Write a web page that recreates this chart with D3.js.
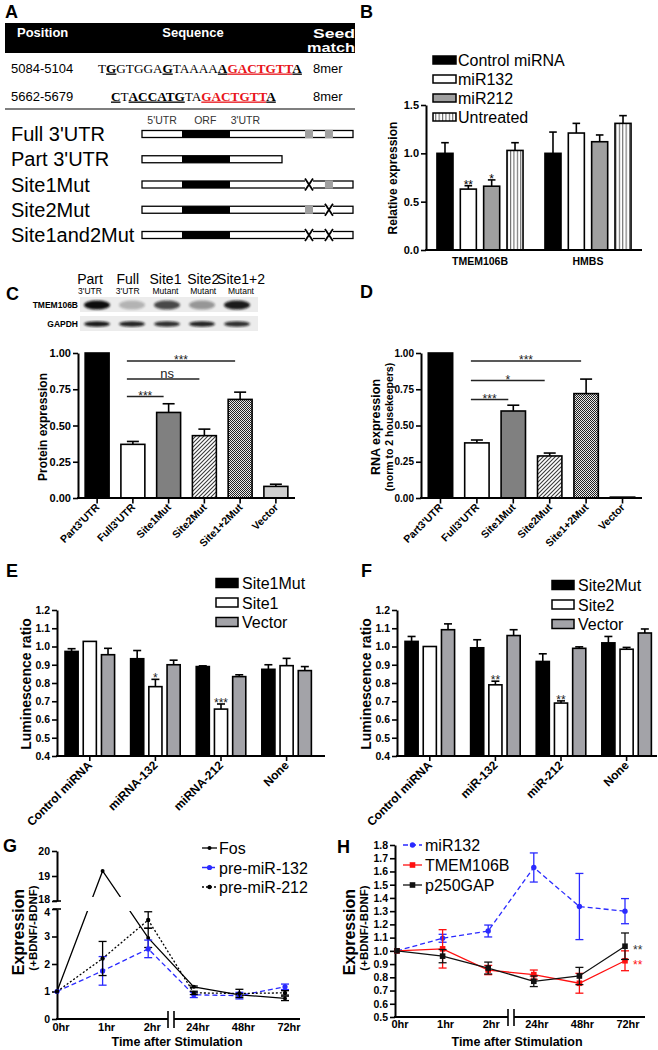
<!DOCTYPE html>
<html><head><meta charset="utf-8">
<script src="https://cdn.jsdelivr.net/npm/d3@7"></script>
<style>body{margin:0;background:#fff}svg{display:block}</style>
</head><body><svg id="fig" width="658" height="1050"></svg>
<script>
// ================= DATA =================
// Panel A
const headerCols = ["Position","Sequence","Seed","match"];
const sitePositions = ["5084-5104","5662-5679"];
const seedTypes = ["8mer","8mer"];
const seqSite1 = [["T","n"],["G","m"],["GTGGA","n"],["G","m"],["TAAAA","n"],["A","m"],["GACTGTT","s"],["A","m"]];
const seqSite2 = [["C","m"],["T","n"],["ACCATG","m"],["TA","n"],["GACTGTT","s"],["A","m"]];
const regionLabels = ["5'UTR","ORF","3'UTR"];
const constructNames = ["Full 3'UTR","Part 3'UTR","Site1Mut","Site2Mut","Site1and2Mut"];
const constructLength = ["full","part","full","full","full"];
const site1State = ["wt","none","mut","wt","mut"];
const site2State = ["wt","none","wt","mut","mut"];

// Panel B
const bGenes = ["TMEM106B","HMBS"];
const bSeries = ["Control miRNA","miR132","miR212","Untreated"];
const bControl = [1.00,1.00],  bControlErr = [0.11,0.22];
const bMiR132 = [0.63,1.21],   bMiR132Err = [0.035,0.10];
const bMiR212 = [0.66,1.12],   bMiR212Err = [0.065,0.07];
const bUntreated = [1.03,1.31],bUntreatedErr = [0.08,0.08];
const bMiR132Sig = ["**",""], bMiR212Sig = ["*",""];
const bTicks = [0,0.5,1.0,1.5];

// Panel C (western blot + quantification)
const blotLanes = ["Part","Full","Site1","Site2","Site1+2"];
const blotLaneSub = ["3'UTR","3'UTR","Mutant","Mutant","Mutant"];
const blotRows = ["TMEM106B","GAPDH"];
const blotGapdh = [0.95,0.9,0.85,0.9,0.85];
const cdCategories = ["Part3'UTR","Full3'UTR","Site1Mut","Site2Mut","Site1+2Mut","Vector"];
const cValues = [1.00,0.37,0.59,0.43,0.68,0.08];
const cErrors = [0,0.02,0.06,0.045,0.05,0.015];
const cSigFrom = [1,1,1], cSigTo = [4,3,2], cSigLevel = [0.945,0.82,0.70], cSigLabel = ["***","ns","***"];
// Panel D
const dValues = [1.00,0.38,0.60,0.29,0.72,0.006];
const dErrors = [0,0.02,0.04,0.02,0.10,0];
const dSigFrom = [1,1,1], dSigTo = [4,3,2], dSigLevel = [0.945,0.81,0.68], dSigLabel = ["***","*","***"];
const cdTicks = [0,0.25,0.5,0.75,1.0];

// Panel E
const eCats = ["Control miRNA","miRNA-132","miRNA-212","None"];
const eSeries = ["Site1Mut","Site1","Vector"];
const eSite1Mut = [0.973,0.933,0.89,0.875], eSite1MutErr = [0.015,0.045,0.004,0.025];
const eSite1 = [1.028,0.78,0.657,0.895],    eSite1Err = [0,0.04,0.028,0.04];
const eVector = [0.955,0.90,0.835,0.868],   eVectorErr = [0.035,0.025,0.01,0.022];
const eSite1Sig = ["","*","***",""];
// Panel F
const fCats = ["Control miRNA","miR-132","miR-212","None"];
const fSeries = ["Site2Mut","Site2","Vector"];
const fSite2Mut = [1.028,0.993,0.918,1.02], fSite2MutErr = [0.027,0.044,0.042,0.035];
const fSite2 = [1.0,0.79,0.69,0.985],       fSite2Err = [0,0.02,0.012,0.01];
const fVector = [1.092,1.06,0.99,1.074],    fVectorErr = [0.032,0.032,0.008,0.022];
const fSite2Sig = ["","**","**",""];
const efTicks = [0.4,0.5,0.6,0.7,0.8,0.9,1.0,1.1,1.2];

// Panel G
const times = ["0hr","1hr","2hr","24hr","48hr","72hr"];
const gSeries = ["Fos","pre-miR-132","pre-miR-212"];
const gFos = [1.0,19.2,2.95,1.17,0.88,0.75],     gFosErr = [0,0,0.35,0.03,0.04,0.08];
const gPre132 = [1.0,1.75,2.55,0.88,0.85,1.17],  gPre132Err = [0,0.52,0.32,0.1,0.12,0.1];
const gPre212 = [1.0,2.2,3.6,0.95,0.93,0.95],    gPre212Err = [0,0.62,0.3,0.06,0.15,0.08];
const gTicksLow = [0,1,2,3,4], gTicksHigh = [18,19,20];
// Panel H
const hSeries = ["miR132","TMEM106B","p250GAP"];
const hMiR132 = [1.00,1.095,1.15,1.63,1.335,1.30],   hMiR132Err = [0,0.03,0.045,0.11,0.25,0.095];
const hTMEM = [1.00,1.015,0.855,0.82,0.755,0.925],   hTMEMErr = [0,0.145,0.035,0.035,0.075,0.075];
const hP250 = [1.00,0.96,0.87,0.77,0.81,1.035],      hP250Err = [0,0.05,0.045,0.04,0.065,0.1];
const hSig = ["","","","","","**"];
const hTicks = [0.5,0.6,0.7,0.8,0.9,1.0,1.1,1.2,1.3,1.4,1.5,1.6,1.7,1.8];

// ================= DRAWING =================
const FONT = "'Liberation Sans', Arial, Helvetica, sans-serif";
const SERIF = "'Liberation Serif', 'Times New Roman', serif";
const svg = d3.select("#fig").attr("font-family", FONT);
svg.append("rect").attr("width",658).attr("height",1050).attr("fill","#fff");
const defs = svg.append("defs");

function pattern(id,w,h,draw){
  const p = defs.append("pattern").attr("id",id).attr("patternUnits","userSpaceOnUse").attr("width",w).attr("height",h);
  draw(p);
}
pattern("vstripe",3.4,4,p=>{
  p.append("rect").attr("width",3.4).attr("height",4).attr("fill","#fff");
  p.append("rect").attr("x",0).attr("width",1.1).attr("height",4).attr("fill","#6a6a6a");
});
pattern("diag",4,4,p=>{
  p.append("rect").attr("width",4).attr("height",4).attr("fill","#fff");
  p.append("path").attr("d","M-1,1 l2,-2 M0,4 l4,-4 M3,5 l2,-2").attr("stroke","#3a3a3a").attr("stroke-width",1.1);
});
pattern("dots",2,2,p=>{
  p.append("rect").attr("width",2).attr("height",2).attr("fill","#e8e8e8");
  p.append("rect").attr("width",1).attr("height",1).attr("fill","#222");
  p.append("rect").attr("x",1).attr("y",1).attr("width",1).attr("height",1).attr("fill","#222");
});
defs.append("filter").attr("id","blur").append("feGaussianBlur").attr("stdDeviation",1.3);

function txt(g,x,y,t,o={}){
  const e = g.append("text").attr("x",x).attr("y",y).text(t)
    .attr("font-size",o.fs||12).attr("font-weight",o.fw||"normal")
    .attr("fill",o.fill||"#000").attr("text-anchor",o.anchor||"start");
  if(o.rot!=null) e.attr("transform",`rotate(${o.rot},${x},${y})`);
  if(o.family) e.attr("font-family",o.family);
  return e;
}
function styleAxis(a,fs){
  a.attr("font-family",FONT);
  a.select(".domain").attr("stroke","#000").attr("stroke-width",2);
  a.selectAll(".tick line").attr("stroke","#000").attr("stroke-width",1.6);
  a.selectAll(".tick text").attr("font-size",fs||11).attr("font-weight","bold").attr("fill","#000");
}
function yAxis(g,y,x,ticks,fmt,fs){
  const a = g.append("g").attr("transform",`translate(${x},0)`)
    .call(d3.axisLeft(y).tickValues(ticks).tickFormat(d3.format(fmt)).tickSize(5).tickSizeOuter(0).tickPadding(2));
  styleAxis(a,fs);
  return a;
}
function hline(g,x1,x2,y,w,c){ g.append("line").attr("x1",x1).attr("x2",x2).attr("y1",y).attr("y2",y).attr("stroke",c||"#000").attr("stroke-width",w||2); }
function errUp(g,cx,y0,y1,cap,c){
  g.append("line").attr("x1",cx).attr("x2",cx).attr("y1",y0).attr("y2",y1).attr("stroke",c||"#000").attr("stroke-width",1.6);
  g.append("line").attr("x1",cx-cap).attr("x2",cx+cap).attr("y1",y1).attr("y2",y1).attr("stroke",c||"#000").attr("stroke-width",1.6);
}
function bar(g,x,w,y0,y1,fill){
  g.append("rect").attr("x",x).attr("y",y1).attr("width",w).attr("height",Math.max(0.5,y0-y1))
    .attr("fill",fill).attr("stroke","#000").attr("stroke-width",1.6);
}

// ---- panel letters
const letters = [["A",5,18],["B",360,18],["C",6,300],["D",360,298],["E",6,577],["F",361,577],["G",3,852],["H",337,853]];
letters.forEach(([t,x,y])=>txt(svg,x,y,t,{fs:18,fw:"bold"}));

// ================= PANEL A =================
const gA = svg.append("g");
defs.append("clipPath").attr("id","clipA").append("rect").attr("x",0).attr("y",0).attr("width",355).attr("height",120);
const gAh = gA.append("g").attr("clip-path","url(#clipA)");
gAh.append("rect").attr("x",5).attr("y",23).attr("width",350).attr("height",30).attr("fill","#000");
txt(gAh,17,37,headerCols[0],{fs:13,fw:"bold",fill:"#fff"});
txt(gAh,193,37,headerCols[1],{fs:13,fw:"bold",fill:"#fff",anchor:"middle"});
txt(gAh,313,38,headerCols[2],{fs:13,fw:"bold",fill:"#fff"}).attr("textLength",42).attr("lengthAdjust","spacingAndGlyphs");
txt(gAh,307,52,headerCols[3],{fs:13,fw:"bold",fill:"#fff"}).attr("textLength",48).attr("lengthAdjust","spacingAndGlyphs");
const rowYA = d3.scalePoint().domain(sitePositions).range([68,96]);
const seqStart = [98,111];
[seqSite1,seqSite2].forEach((segs,i)=>{
  const y = rowYA(sitePositions[i]) + 4.5;
  txt(gAh,11,y,sitePositions[i],{fs:13});
  txt(gAh,313,y,seedTypes[i],{fs:13});
  const t = gAh.append("text").attr("x",seqStart[i]).attr("y",y).attr("font-family",SERIF).attr("font-size",13.2);
  segs.forEach(([s,k])=>{
    const ts = t.append("tspan").text(s);
    if(k!=="n"){ ts.attr("font-weight","bold").attr("text-decoration","underline"); }
    if(k==="s"){ ts.attr("fill","#e8141a"); }
  });
});
hline(gAh,5,355,109,1.5,"#555");

// schematic constructs
const geneX = d3.scaleLinear().domain([0,1]).range([142,353]);
const rowY = d3.scalePoint().domain(constructNames).range([134,235]);
[0.095,0.30,0.49].forEach((f,i)=>txt(gA,geneX(f),124,regionLabels[i],{fs:10.5,fill:"#333",anchor:"middle"}));
const bh = 7;
constructNames.forEach((n,i)=>{
  const cy = rowY(n);
  txt(gA,11,cy+7,n,{fs:20});
  const end = constructLength[i]==="full" ? 1 : 0.6635;
  gA.append("rect").attr("x",geneX(0)).attr("y",cy-bh/2).attr("width",geneX(end)-geneX(0)).attr("height",bh)
    .attr("fill","#fff").attr("stroke","#000").attr("stroke-width",1.3);
  gA.append("rect").attr("x",geneX(0.1896)).attr("y",cy-bh/2).attr("width",geneX(0.417)-geneX(0.1896)).attr("height",bh).attr("fill","#000");
  [[site1State[i],0.7725,0.8104],[site2State[i],0.867,0.905]].forEach(([st,a,b])=>{
    if(st==="wt"){
      gA.append("rect").attr("x",geneX(a)).attr("y",cy-bh/2-0.6).attr("width",geneX(b)-geneX(a)).attr("height",bh+1.2).attr("fill","#a0a0a0");
    } else if(st==="mut"){
      const x0=geneX(a), x1=geneX(b);
      gA.append("rect").attr("x",x0).attr("y",cy-bh/2-1).attr("width",x1-x0).attr("height",bh+2).attr("fill","#fff");
      gA.append("path").attr("d",`M${x0},${cy-6}L${x1},${cy+6}M${x1},${cy-6}L${x0},${cy+6}`).attr("stroke","#000").attr("stroke-width",1.8);
    }
  });
});

// ================= PANEL B =================
const gB = svg.append("g");
const yB = d3.scaleLinear().domain([0,1.5]).range([250,105]);
const xB0 = d3.scaleBand().domain(bGenes).range([426,642]);
const xB1 = d3.scaleBand().domain(bSeries).range([0,xB0.bandwidth()]).paddingInner(0.313).paddingOuter(0.47);
const bFill = ["#000","#fff","#a0a0a0","url(#vstripe)"];
const bVals = [bControl,bMiR132,bMiR212,bUntreated];
const bErrs = [bControlErr,bMiR132Err,bMiR212Err,bUntreatedErr];
const bSigs = [null,bMiR132Sig,bMiR212Sig,null];
bGenes.forEach((gname,gi)=>{
  bSeries.forEach((s,si)=>{
    const x = xB0(gname)+xB1(s), w = xB1.bandwidth(), v = bVals[si][gi], e = bErrs[si][gi];
    if(e>0) errUp(gB,x+w/2,yB(v),yB(v+e),3.8);
    bar(gB,x,w,yB(0),yB(v),bFill[si]);
    if(bSigs[si] && bSigs[si][gi]) txt(gB,x+w/2,yB(v+e)+3,bSigs[si][gi],{fs:12,anchor:"middle"});
  });
  txt(gB,xB0(gname)+xB0.bandwidth()/2,265,gname,{fs:10.5,fw:"bold",anchor:"middle"});
});
yAxis(gB,yB,426,bTicks,".1f");
hline(gB,425,642,250,2);
txt(gB,397,178,"Relative expression",{fs:12,fw:"bold",anchor:"middle",rot:-90});
const legB = d3.scalePoint().domain(bSeries).range([60,117]);
bSeries.forEach((s,i)=>{
  gB.append("rect").attr("x",433).attr("y",legB(s)-4).attr("width",23).attr("height",8).attr("fill",bFill[i]).attr("stroke","#000").attr("stroke-width",1.5);
  txt(gB,458,legB(s)+6,s,{fs:16});
});

// ================= PANEL C =================
const gC = svg.append("g");
// blot
const laneX = d3.scalePoint().domain(blotLanes).range([97,237]);
const laneLabelX = d3.scalePoint().domain(blotLanes).range([90,241]);
blotLanes.forEach((l,i)=>{
  txt(gC,laneLabelX(l),284,l,{fs:14,anchor:"middle"});
  txt(gC,laneLabelX(l),293.5,blotLaneSub[i],{fs:8.5,anchor:"middle"});
});
const blotRowY = d3.scalePoint().domain(blotRows).range([305,324]);
blotRows.forEach((r,ri)=>{
  const cy = blotRowY(r);
  gC.append("rect").attr("x",80).attr("y",cy-8).attr("width",178).attr("height",15).attr("fill","#ececec");
  txt(gC,78,cy+3,r,{fs:8.5,fw:"bold",anchor:"end"});
  blotLanes.forEach((l,i)=>{
    const inten = ri===0 ? Math.min(1,Math.max(0.25,0.25+(cValues[i]-0.37)*2.2)) : blotGapdh[i];
    gC.append("ellipse").attr("cx",laneX(l)).attr("cy",cy).attr("rx",13).attr("ry",ri===0?4.5:2.8)
      .attr("fill","#111").attr("opacity",inten).attr("filter","url(#blur)");
  });
});
function cdChart(g,vals,errs,x0,x1,sigF,sigT,sigL,sigLab,tfs){
  const y = d3.scaleLinear().domain([0,1]).range([498,353]);
  const x = d3.scaleBand().domain(cdCategories).range([x0,x1]).paddingInner(0.33).paddingOuter(0.2);
  const fills = ["#000","#fff","#808080","url(#diag)","url(#dots)","#cfcfcf"];
  cdCategories.forEach((c,i)=>{
    const bx = x(c), w = x.bandwidth();
    if(errs[i]>0) errUp(g,bx+w/2,y(vals[i]),y(vals[i]+errs[i]),6);
    bar(g,bx,w,y(0),y(vals[i]),fills[i]);
    g.append("line").attr("x1",bx+w/2).attr("x2",bx+w/2).attr("y1",498).attr("y2",503.5).attr("stroke","#000").attr("stroke-width",1.6);
    txt(g,bx+w/2+3,508,c,{fs:10.5,fw:"bold",anchor:"end",rot:-45});
  });
  yAxis(g,y,x0,cdTicks,".2f",tfs);
  hline(g,x0-1,x1,498,2);
  sigF.forEach((f,k)=>{
    const xa = x(cdCategories[f])+x.bandwidth()/2-6, xb = x(cdCategories[sigT[k]])+x.bandwidth()/2-5;
    const ly = y(sigL[k]);
    hline(g,xa,xb,ly,1.5,"#222");
    const isNs = sigLab[k]==="ns";
    txt(g,(xa+xb)/2+(isNs?4:0),isNs?ly-1:ly+3.5,sigLab[k],{fs:isNs?13:12,anchor:"middle",fill:"#222"});
  });
  return {x,y};
}
cdChart(gC,cValues,cErrors,78,295,cSigFrom,cSigTo,cSigLevel,cSigLabel,11);
txt(gC,47,427,"Protein expression",{fs:12,fw:"bold",anchor:"middle",rot:-90});

// ================= PANEL D =================
const gD = svg.append("g");
cdChart(gD,dValues,dErrors,421,642,dSigFrom,dSigTo,dSigLevel,dSigLabel,10);
txt(gD,380,427,"RNA expression",{fs:12.5,fw:"bold",anchor:"middle",rot:-90});
txt(gD,392.5,427,"(norm to 2 housekeepers)",{fs:10.5,fw:"bold",anchor:"middle",rot:-90});

// ================= PANELS E / F =================
function efChart(g,cats,series,vals,errs,sig,xa,xEnd,legX,legY0){
  const y = d3.scaleLinear().domain([0.4,1.2]).range([756,610]);
  const x0 = d3.scaleBand().domain(cats).range([xa,xa+4*65.6]);
  const x1 = d3.scaleBand().domain(series).range([0,x0.bandwidth()]).paddingInner(0.28).paddingOuter(0.44);
  const fills = ["#000","#fff","#a3a3a8"];
  cats.forEach((c,ci)=>{
    series.forEach((s,si)=>{
      const bx = x0(c)+x1(s), w = x1.bandwidth(), v = vals[si][ci], e = errs[si][ci];
      if(e>0) errUp(g,bx+w/2,y(v),y(v+e),4);
      bar(g,bx,w,y(0.4),y(v),fills[si]);
      if(si===1 && sig[ci]) txt(g,bx+w/2,y(v+e)+3,sig[ci],{fs:12,anchor:"middle",fill:"#222"});
    });
    const cx = x0(c)+x0.bandwidth()/2;
    g.append("line").attr("x1",cx).attr("x2",cx).attr("y1",756).attr("y2",761).attr("stroke","#000").attr("stroke-width",1.6);
    txt(g,cx+3,766,c,{fs:12,fw:"bold",anchor:"end",rot:-45});
  });
  yAxis(g,y,xa,efTicks,".1f",10.5);
  hline(g,xa-1,xEnd,756,2);
  const ly = d3.scalePoint().domain(series).range([legY0,legY0+39]);
  series.forEach((s,i)=>{
    g.append("rect").attr("x",legX).attr("y",ly(s)-4.5).attr("width",22).attr("height",9).attr("fill",fills[i]).attr("stroke","#000").attr("stroke-width",1.5);
    txt(g,legX+26,ly(s)+6,s,{fs:16});
  });
}
const gE = svg.append("g");
efChart(gE,eCats,eSeries,[eSite1Mut,eSite1,eVector],[eSite1MutErr,eSite1Err,eVectorErr],eSite1Sig,57,325,216,583);
txt(gE,31,684,"Luminescence ratio",{fs:14,fw:"bold",anchor:"middle",rot:-90});
const gF = svg.append("g");
efChart(gF,fCats,fSeries,[fSite2Mut,fSite2,fVector],[fSite2MutErr,fSite2Err,fVectorErr],fSite2Sig,397,657,552,585);
txt(gF,371,684,"Luminescence ratio",{fs:14,fw:"bold",anchor:"middle",rot:-90});

// ================= PANEL G =================
const gG = svg.append("g");
const xG = d3.scalePoint().domain(times).range([57,285]);
const yGlow = d3.scaleLinear().domain([0,4]).range([1019,909]);
const yGhigh = d3.scaleLinear().domain([18,20]).range([901,851]);
const yG = v => v>4 ? yGhigh(v) : yGlow(v);
const axLow = yAxis(gG,yGlow,57,gTicksLow,"d",10.5);
const axHigh = yAxis(gG,yGhigh,57,gTicksHigh,"d",10.5);
axLow.selectAll(".tick text").filter(d=>d===4).attr("dy","0.6em");
axHigh.selectAll(".tick text").filter(d=>d===18).attr("dy","0.1em");
hline(gG,53,61,909,1.6); hline(gG,53,61,901,1.6);
// x axis with break
const brG = (xG("2hr")+xG("24hr"))/2;
hline(gG,56,brG-3,1019,2); hline(gG,brG+3,300,1019,2);
[brG-3,brG+3].forEach(bx=>gG.append("line").attr("x1",bx).attr("x2",bx).attr("y1",1011).attr("y2",1028).attr("stroke","#000").attr("stroke-width",1.6));
times.forEach(t=>txt(gG,xG(t)+4,1031,t,{fs:11,fw:"bold",anchor:"middle"}));
txt(gG,177,1046,"Time after Stimulation",{fs:12.5,fw:"bold",anchor:"middle"});
txt(gG,24,932,"Expression",{fs:16,fw:"bold",anchor:"middle",rot:-90});
txt(gG,36.5,928,"(+BDNF/-BDNF)",{fs:11.5,fw:"bold",anchor:"middle",rot:-90});
const clipG = defs.append("clipPath").attr("id","clipG");
clipG.append("rect").attr("x",40).attr("y",830).attr("width",280).attr("height",67);
clipG.append("rect").attr("x",40).attr("y",911).attr("width",280).attr("height",120);
const gSpecs = [
  {vals:gFos,errs:gFosErr,color:"#000",dash:null,r:2},
  {vals:gPre132,errs:gPre132Err,color:"#2a2aff",dash:"5,3",r:2.6},
  {vals:gPre212,errs:gPre212Err,color:"#000",dash:"2,2",r:2.2}
];
const lineG = d3.line().x(d=>xG(d.t)).y(d=>yG(d.v));
gSpecs.forEach(sp=>{
  const pts = times.map((t,i)=>({t,v:sp.vals[i],e:sp.errs[i]}));
  gG.append("path").datum(pts).attr("d",lineG).attr("fill","none").attr("stroke",sp.color)
    .attr("stroke-width",1.3).attr("stroke-dasharray",sp.dash).attr("clip-path","url(#clipG)");
  pts.forEach(p=>{
    if(p.e>0){
      const x=xG(p.t), y1=yG(p.v+p.e), y2=yG(p.v-p.e);
      gG.append("line").attr("x1",x).attr("x2",x).attr("y1",y1).attr("y2",y2).attr("stroke",sp.color).attr("stroke-width",1.3);
      hline(gG,x-4,x+4,y1,1.3,sp.color); hline(gG,x-4,x+4,y2,1.3,sp.color);
    }
    gG.append("circle").attr("cx",xG(p.t)).attr("cy",yG(p.v)).attr("r",sp.r).attr("fill",sp.color);
  });
});
const legG = d3.scalePoint().domain(gSeries).range([848,887]);
gSeries.forEach((s,i)=>{
  const sp = gSpecs[i], y = legG(s);
  gG.append("line").attr("x1",202).attr("x2",217).attr("y1",y).attr("y2",y).attr("stroke",sp.color).attr("stroke-width",1.3).attr("stroke-dasharray",sp.dash);
  gG.append("circle").attr("cx",209.5).attr("cy",y).attr("r",sp.r).attr("fill",sp.color);
  txt(gG,219,y+6,s,{fs:16});
});

// ================= PANEL H =================
const gH = svg.append("g");
const xH = d3.scalePoint().domain(times).range([397,625]);
const yH = d3.scaleLinear().domain([0.5,1.8]).range([1017,845]);
yAxis(gH,yH,395,hTicks,".1f",10.5);
const brH = (xH("2hr")+xH("24hr"))/2;
hline(gH,394,brH-3,1017,2); hline(gH,brH+3,645,1017,2);
[brH-3,brH+3].forEach(bx=>gH.append("line").attr("x1",bx).attr("x2",bx).attr("y1",1009).attr("y2",1026).attr("stroke","#000").attr("stroke-width",1.6));
times.forEach(t=>txt(gH,xH(t)+3,1028,t,{fs:11,fw:"bold",anchor:"middle"}));
txt(gH,517,1046,"Time after Stimulation",{fs:12.5,fw:"bold",anchor:"middle"});
txt(gH,355,932,"Expression",{fs:16,fw:"bold",anchor:"middle",rot:-90});
txt(gH,368,928,"(+BDNF/-BDNF)",{fs:11.5,fw:"bold",anchor:"middle",rot:-90});
const hSpecs = [
  {vals:hMiR132,errs:hMiR132Err,color:"#2a2aff",dash:"5,3",shape:"circle"},
  {vals:hTMEM,errs:hTMEMErr,color:"#ff1010",dash:null,shape:"square"},
  {vals:hP250,errs:hP250Err,color:"#111",dash:null,shape:"square"}
];
const lineH = d3.line().x(d=>xH(d.t)).y(d=>yH(d.v));
function marker(g,x,y,sp){
  if(sp.shape==="circle") g.append("circle").attr("cx",x).attr("cy",y).attr("r",2.7).attr("fill",sp.color);
  else g.append("rect").attr("x",x-2.8).attr("y",y-2.8).attr("width",5.6).attr("height",5.6).attr("fill",sp.color);
}
hSpecs.forEach((sp,si)=>{
  const pts = times.map((t,i)=>({t,v:sp.vals[i],e:sp.errs[i]}));
  gH.append("path").datum(pts).attr("d",lineH).attr("fill","none").attr("stroke",sp.color).attr("stroke-width",1.3).attr("stroke-dasharray",sp.dash);
  pts.forEach((p,i)=>{
    if(p.e>0){
      const x=xH(p.t), y1=yH(p.v+p.e), y2=yH(p.v-p.e);
      gH.append("line").attr("x1",x).attr("x2",x).attr("y1",y1).attr("y2",y2).attr("stroke",sp.color).attr("stroke-width",1.3);
      hline(gH,x-4,x+4,y1,1.3,sp.color); hline(gH,x-4,x+4,y2,1.3,sp.color);
    }
    marker(gH,xH(p.t),yH(p.v),sp);
    if(si>0 && hSig[i]) txt(gH,xH(p.t)+8,yH(p.v)+8,hSig[i],{fs:12,fill:sp.color==="#111"?"#333":sp.color});
  });
});
const legH = d3.scalePoint().domain(hSeries).range([845,885]);
hSeries.forEach((s,i)=>{
  const sp = hSpecs[i], y = legH(s);
  gH.append("line").attr("x1",403).attr("x2",422).attr("y1",y).attr("y2",y).attr("stroke",sp.color).attr("stroke-width",1.3).attr("stroke-dasharray",sp.dash);
  marker(gH,412.5,y,sp);
  txt(gH,425,y+6,s,{fs:16});
});
</script></body></html>
